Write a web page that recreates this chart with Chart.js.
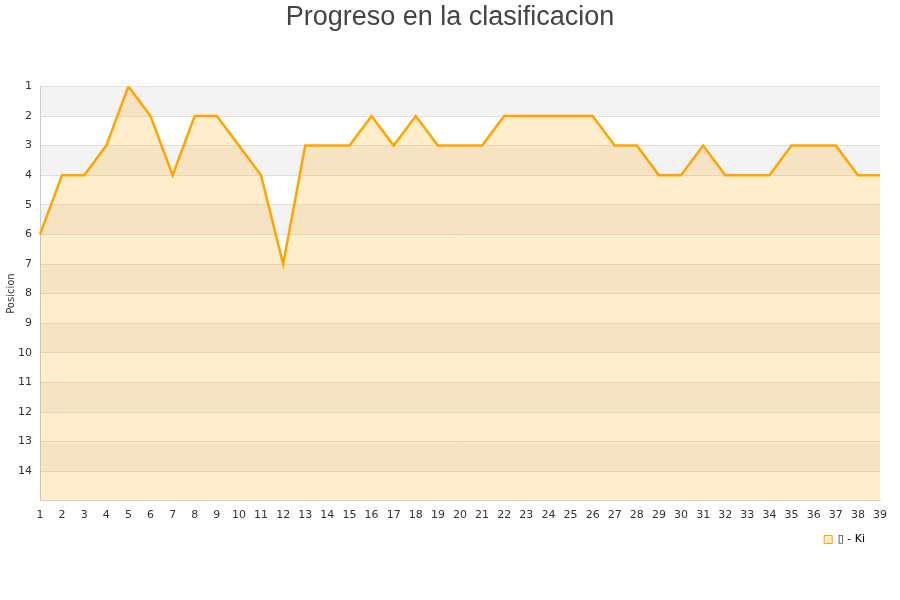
<!DOCTYPE html>
<html><head><meta charset="utf-8">
<script src="https://cdn.jsdelivr.net/npm/chart.js@4"></script>
<style>html,body{margin:0;padding:0;background:#fff;}#wrap{width:900px;height:600px;}</style>
</head><body><div id="wrap"><canvas id="c" width="900" height="600"></canvas></div>
<script>
const jornadas = [1,2,3,4,5,6,7,8,9,10,11,12,13,14,15,16,17,18,19,20,21,22,23,24,25,26,27,28,29,30,31,32,33,34,35,36,37,38,39];
const posiciones = [6,4,4,3,1,2,4,2,2,3,4,7,3,3,3,2,3,2,3,3,3,2,2,2,2,2,3,3,4,4,3,4,4,4,3,3,3,4,4];
const yTicks = [1,2,3,4,5,6,7,8,9,10,11,12,13,14];
const seriesLabel = "\u25AF - Ki";

const bands = {
  id: 'bands',
  beforeDraw(chart) {
    const {ctx, chartArea, scales: {y}} = chart;
    ctx.save();
    for (let v = 1; v < 15; v += 2) {
      const a = y.getPixelForValue(v), b = y.getPixelForValue(v + 1);
      ctx.fillStyle = '#f3f3f3';
      ctx.fillRect(chartArea.left, Math.min(a,b), chartArea.right - chartArea.left, Math.abs(b - a));
    }
    ctx.restore();
  }
};

const legendShift = {
  id: 'legendShift',
  afterUpdate(chart) {
    if (chart.legend) {
      chart.legend.right = 871;
      chart.legend.top += 6;
      chart.legend.bottom += 6;
    }
  }
};

new Chart(document.getElementById('c'), {
  type: 'line',
  data: {
    labels: jornadas,
    datasets: [{
      label: seriesLabel,
      data: posiciones,
      borderColor: '#ffa500',
      backgroundColor: 'rgba(255,165,0,0.2)',
      borderWidth: 2.5,
      fill: { value: 15 },
      pointRadius: 0,
      tension: 0
    }]
  },
  options: {
    responsive: false,
    animation: false,
    layout: { padding: { left: 0, right: 0, top: 0, bottom: 51 } },
    plugins: {
      title: { display: true, text: 'Progreso en la clasificacion', color: '#444', font: { family: 'Liberation Sans', size: 27, weight: 'normal' }, padding: { top: 1, bottom: 53 } },
      legend: {
        position: 'bottom', align: 'end',
        labels: {
          boxWidth: 8, boxHeight: 8, padding: 6, color: '#000', font: { family: 'DejaVu Sans', size: 11 },
          generateLabels(chart) {
            const items = Chart.defaults.plugins.legend.labels.generateLabels(chart);
            items.forEach(i => { i.lineWidth = 1; });
            return items;
          }
        }
      },
      tooltip: { enabled: false }
    },
    scales: {
      x: {
        type: 'category', offset: false,
        grid: { display: false },
        border: { color: '#ddd' },
        ticks: { color: '#333', font: { family: 'DejaVu Sans', size: 11 }, maxRotation: 0, autoSkip: false, padding: 0 }
      },
      y: {
        reverse: true, min: 1, max: 15,
        afterBuildTicks(axis) { axis.ticks = yTicks.map(v => ({ value: v })); },
        afterFit(axis) { axis.width = 40; },
        grid: { color: '#e0e0e0', drawTicks: false },
        border: { color: '#ccc' },
        ticks: { color: '#333', font: { family: 'DejaVu Sans', size: 11 }, padding: 8 },
        title: { display: true, text: 'Posicion', color: '#333', font: { family: 'DejaVu Sans', size: 10 }, padding: { top: 5, bottom: 0 } }
      },
      yr: {
        position: 'right', display: true,
        afterFit(axis) { axis.width = 20; },
        grid: { display: false },
        border: { display: false },
        ticks: { display: false }
      }
    }
  },
  plugins: [bands, legendShift]
});
</script></body></html>
